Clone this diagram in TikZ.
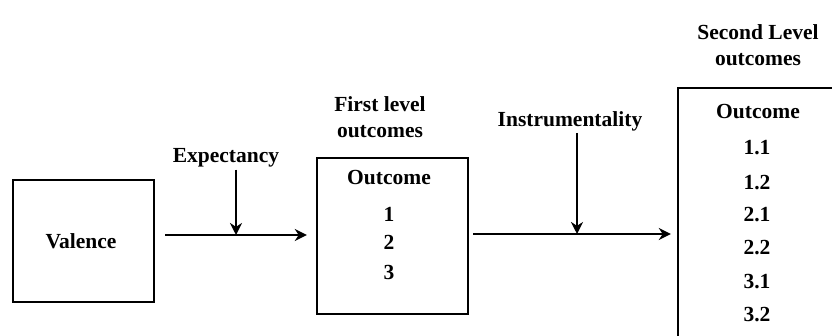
\documentclass[tikz,border=0pt]{standalone}
\usepackage{fontspec}
\setmainfont{Liberation Serif}
\usetikzlibrary{arrows.meta}
\begin{document}
\begin{tikzpicture}[x=1pt,y=-1pt,
  box/.style={draw=black,line width=2.4pt,inner sep=0pt},
  txt/.style={font=\fontsize{21.5}{25}\selectfont\bfseries,inner sep=0pt,anchor=base},
  lbl/.style={font=\fontsize{21.5}{26}\selectfont\bfseries,inner sep=0pt,align=center},
  conn/.style={line width=2.2pt,-{Stealth[length=12pt,width=12pt]}}]
\useasboundingbox (0,0) rectangle (832,336);
\clip (0,0) rectangle (832,336);
\fill[white] (0,0) rectangle (832,336);
% boxes
\node[box,minimum width=141pt,minimum height=122pt] (valence) at (83.5,241) {};
\node[box,minimum width=151pt,minimum height=156pt] (first) at (392.5,236) {};
\node[box,minimum width=160pt,minimum height=270pt] (second) at (758,223) {};
% texts in boxes
\node[txt] (vtext) at (81,249) {Valence};
\node[txt] (o1) at (389,185) {Outcome};
\node[txt] (n1) at (389,222) {1};
\node[txt] (n2) at (389,250) {2};
\node[txt] (n3) at (389,280) {3};
\node[txt] (o2) at (758,119) {Outcome};
\node[txt] (m11) at (757,155) {1.1};
\node[txt] (m12) at (757,190) {1.2};
\node[txt] (m21) at (757,222) {2.1};
\node[txt] (m22) at (757,255) {2.2};
\node[txt] (m31) at (757,289) {3.1};
\node[txt] (m32) at (757,322) {3.2};
% labels
\node[lbl] (firstlbl) at (380,117) {First level\\outcomes};
\node[lbl] (secondlbl) at (758,45) {Second Level\\outcomes};
\node[lbl] (expect) at (226,158) {Expectancy};
\node[lbl] (instr) at (570,121) {Instrumentality};
% connectors
\coordinate (a1s) at (165,235);
\coordinate (a1m) at (236,235);
\coordinate (a2s) at (473,234);
\coordinate (a2m) at (577,234);
\draw[conn,shorten >=9pt] (a1s) -- (first.west |- a1s);
\draw[conn,shorten >=6pt] (a2s) -- (second.west |- a2s);
\draw[conn] (expect.south -| a1m) ++(0,2) -- (a1m);
\draw[conn] (instr.south -| a2m) ++(0,2) -- (a2m);
\end{tikzpicture}
\end{document}
